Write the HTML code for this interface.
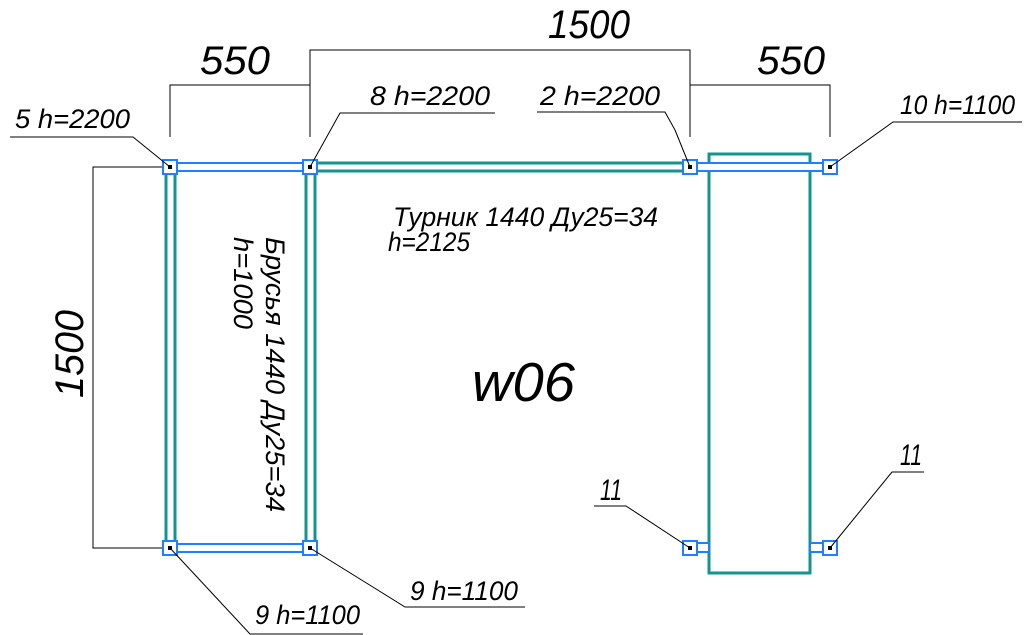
<!DOCTYPE html>
<html><head><meta charset="utf-8"><style>
html,body{margin:0;padding:0;background:#fff;width:1024px;height:635px;overflow:hidden}
svg text{font-family:"Liberation Sans","DejaVu Sans",sans-serif;font-style:italic;fill:#000}
</style></head><body>
<svg width="1024" height="635" viewBox="0 0 1024 635" xmlns="http://www.w3.org/2000/svg">
<g stroke="#000" stroke-width="1" fill="none">
<polyline points="170,137 170,85 310,85"/>
<polyline points="310,137 310,50 690,50 690,137"/>
<polyline points="690,85 830,85 830,137"/>
<polyline points="170,167 93,167 93,548 170,548"/>
</g>
<rect x="709" y="154" width="101" height="419" fill="none" stroke="#13958f" stroke-width="3"/>
<g stroke="#13958f" stroke-width="3" fill="none">
<line x1="166" y1="174" x2="166" y2="541"/>
<line x1="175" y1="174" x2="175" y2="541"/>
<line x1="306" y1="174" x2="306" y2="541"/>
<line x1="315" y1="174" x2="315" y2="541"/>
<line x1="317" y1="163" x2="683" y2="163"/>
<line x1="317" y1="171" x2="683" y2="171"/>
</g>
<g stroke="#1e7fff" stroke-width="2" fill="#fff">
<rect x="177" y="163" width="126" height="8"/>
<rect x="697" y="163" width="126" height="8"/>
<rect x="177" y="544" width="126" height="8"/>
<rect x="697" y="543" width="12" height="9"/>
<rect x="810" y="543" width="13" height="9"/>
</g>
<g stroke="#1e7fff" stroke-width="2" fill="#fff">
<rect x="163" y="160" width="14" height="14"/>
<rect x="303" y="160" width="14" height="14"/>
<rect x="683" y="160" width="14" height="14"/>
<rect x="823" y="160" width="14" height="14"/>
<rect x="163" y="541" width="14" height="14"/>
<rect x="303" y="541" width="14" height="14"/>
<rect x="683" y="541" width="14" height="14"/>
<rect x="823" y="541" width="14" height="14"/>
</g>
<g fill="#000">
<rect x="168" y="165" width="4" height="4"/>
<rect x="308" y="165" width="4" height="4"/>
<rect x="688" y="165" width="4" height="4"/>
<rect x="828" y="165" width="4" height="4"/>
<rect x="168" y="546" width="4" height="4"/>
<rect x="308" y="546" width="4" height="4"/>
<rect x="688" y="546" width="4" height="4"/>
<rect x="828" y="546" width="4" height="4"/>
</g>
<g stroke="#000" stroke-width="1" fill="none">
<polyline points="10,137 133,137 170,167"/>
<polyline points="495,113 340,113 310,167"/>
<polyline points="537,112 665,112 675,130 690,167"/>
<polyline points="1022,122 893,122 830,167"/>
<polyline points="594,506 626,506 690,548"/>
<polyline points="924,472 892,472 830,548"/>
<polyline points="170,548 250,634 363,634"/>
<polyline points="310,548 405,607 525,607"/>
</g>
<text x="548" y="38" font-size="40" textLength="82" lengthAdjust="spacingAndGlyphs">1500</text>
<text x="200" y="74" font-size="40" textLength="70" lengthAdjust="spacingAndGlyphs">550</text>
<text x="757" y="74" font-size="40" textLength="68" lengthAdjust="spacingAndGlyphs">550</text>
<text transform="translate(83,398) rotate(-90)" font-size="40" textLength="88" lengthAdjust="spacingAndGlyphs">1500</text>
<text x="15" y="128" font-size="27" textLength="115" lengthAdjust="spacingAndGlyphs">5 h=2200</text>
<text x="370" y="105" font-size="27" textLength="120" lengthAdjust="spacingAndGlyphs">8 h=2200</text>
<text x="540" y="105" font-size="27" textLength="120" lengthAdjust="spacingAndGlyphs">2 h=2200</text>
<text x="900" y="114" font-size="27" textLength="115" lengthAdjust="spacingAndGlyphs">10 h=1100</text>
<text x="393" y="226" font-size="27" textLength="265" lengthAdjust="spacingAndGlyphs">Турник 1440 Ду25=34</text>
<text x="388" y="251" font-size="27" textLength="82" lengthAdjust="spacingAndGlyphs">h=2125</text>
<text x="472" y="401" font-size="55" textLength="103" lengthAdjust="spacingAndGlyphs">w06</text>
<text transform="translate(266,237) rotate(90)" font-size="27" textLength="275" lengthAdjust="spacingAndGlyphs">Брусья 1440 Ду25=34</text>
<text transform="translate(234,237) rotate(90)" font-size="27" textLength="92" lengthAdjust="spacingAndGlyphs">h=1000</text>
<text x="600" y="500" font-size="30" textLength="22" lengthAdjust="spacingAndGlyphs">11</text>
<text x="900" y="465" font-size="30" textLength="22" lengthAdjust="spacingAndGlyphs">11</text>
<text x="410" y="600" font-size="27" textLength="108" lengthAdjust="spacingAndGlyphs">9 h=1100</text>
<text x="255" y="624" font-size="27" textLength="105" lengthAdjust="spacingAndGlyphs">9 h=1100</text>
</svg>
</body></html>
